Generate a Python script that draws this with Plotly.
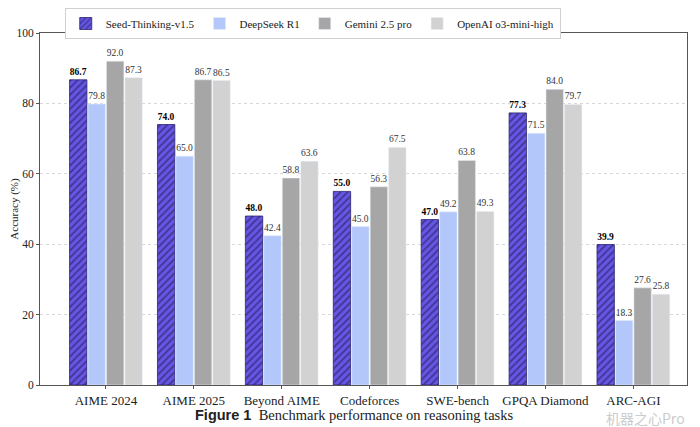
import plotly.graph_objects as go

categories = ["AIME 2024", "AIME 2025", "Beyond AIME", "Codeforces", "SWE-bench", "GPQA Diamond", "ARC-AGI"]
seed = [86.7, 74.0, 48.0, 55.0, 47.0, 77.3, 39.9]
deepseek = [79.8, 65.0, 42.4, 45.0, 49.2, 71.5, 18.3]
gemini = [92.0, 86.7, 58.8, 56.3, 63.8, 84.0, 27.6]
openai = [87.3, 86.5, 63.6, 67.5, 49.3, 79.7, 25.8]
y_ticks = [0, 20, 40, 60, 80, 100]

serif = "Liberation Serif, Times New Roman, serif"
x_idx = list(range(len(categories)))

fig = go.Figure()
fig.add_trace(go.Bar(
    name="Seed-Thinking-v1.5", x=x_idx, y=seed,
    marker=dict(color="#6656e6", line=dict(color="#2a2270", width=0.8),
                pattern=dict(shape="/", fgcolor="#1a1640", bgcolor="#6656e6", size=5, solidity=0.35)),
    text=[f"<b>{v:.1f}</b>" for v in seed], textposition="outside",
    textfont=dict(family=serif, size=9.5, color="black"), cliponaxis=False,
))
fig.add_trace(go.Bar(
    name="DeepSeek R1", x=x_idx, y=deepseek, marker=dict(color="#b3c7fb"),
    text=[f"{v:.1f}" for v in deepseek], textposition="outside",
    textfont=dict(family=serif, size=9.5, color="#333"), cliponaxis=False,
))
fig.add_trace(go.Bar(
    name="Gemini 2.5 pro", x=x_idx, y=gemini, marker=dict(color="#a6a6a6"),
    text=[f"{v:.1f}" for v in gemini], textposition="outside",
    textfont=dict(family=serif, size=9.5, color="#333"), cliponaxis=False,
))
fig.add_trace(go.Bar(
    name="OpenAI o3-mini-high", x=x_idx, y=openai, marker=dict(color="#d2d2d2"),
    text=[f"{v:.1f}" for v in openai], textposition="outside",
    textfont=dict(family=serif, size=9.5, color="#333"), cliponaxis=False,
))

fig.update_layout(
    width=692, height=419,
    margin=dict(l=32, r=13, t=25, b=42, autoexpand=False),
    paper_bgcolor="white", plot_bgcolor="white",
    barmode="group", bargap=0.16, bargroupgap=0.06,
    font=dict(family=serif, color="#222"),
    showlegend=True,
    legend=dict(orientation="h", x=0.082, xanchor="left", xref="container",
                y=1.0, yanchor="top", yref="container",
                bordercolor="#d0d0d0", borderwidth=1, bgcolor="white",
                font=dict(family=serif, size=11, color="#222"),
                itemwidth=30, tracegroupgap=0),
    xaxis=dict(tickmode="array", tickvals=x_idx, ticktext=categories,
               range=[-0.75, 6.61], showgrid=False,
               showline=True, linecolor="#555", linewidth=1, mirror=True,
               ticks="outside", ticklen=3, tickcolor="#555",
               tickfont=dict(family=serif, size=13, color="#222")),
    yaxis=dict(range=[0, 100], tickvals=y_ticks, showgrid=True,
               gridcolor="#d8d8d8", griddash="dot", gridwidth=1,
               showline=True, linecolor="#555", linewidth=1, mirror=True,
               ticks="outside", ticklen=3, tickcolor="#555",
               tickfont=dict(family=serif, size=11.5, color="#222"),
               title=dict(text="Accuracy (%)", font=dict(family=serif, size=11, color="#222"), standoff=6),
               zeroline=False),
)

fig.add_annotation(
    x=0.485, y=-0.085, xref="paper", yref="paper", xanchor="center", yanchor="middle", showarrow=False,
    text="<b><span style='font-family:Liberation Sans, Arial, sans-serif'>Figure 1</span></b>  Benchmark performance on reasoning tasks",
    font=dict(family=serif, size=14.5, color="#222"),
)
fig.add_annotation(
    x=1.0, y=-0.095, xref="paper", yref="paper", xanchor="right", yanchor="middle", showarrow=False,
    text="机器之心Pro", font=dict(family="Noto Sans CJK SC", size=14, color="#cccccc"),
)

fig.write_html("out.html")
